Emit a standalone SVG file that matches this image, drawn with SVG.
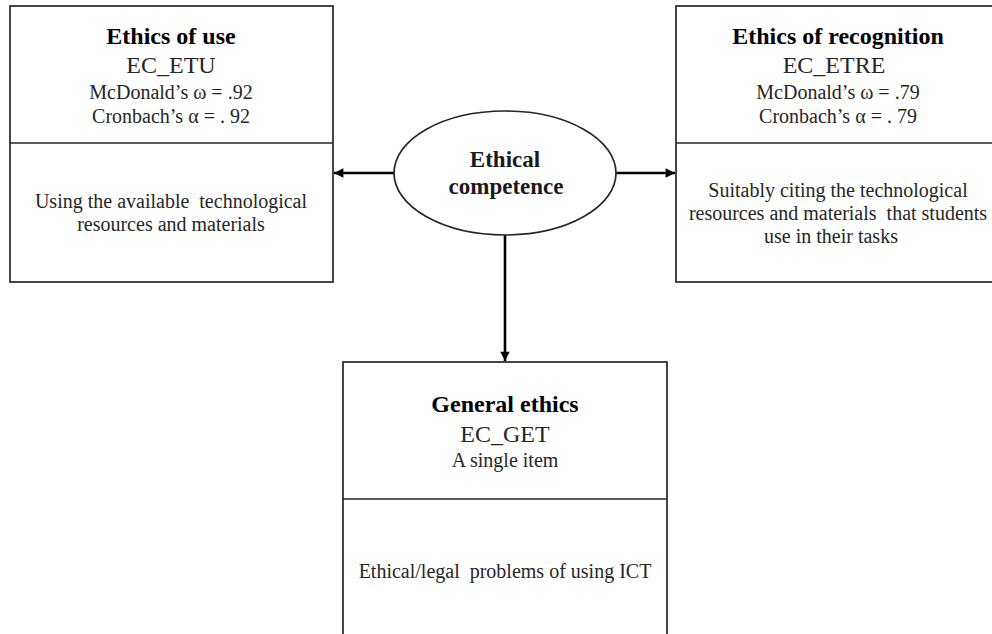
<svg xmlns="http://www.w3.org/2000/svg" width="992" height="634" viewBox="0 0 992 634">
<style>
.box{fill:#fff;stroke:#262626;stroke-width:1.7}
.div{stroke:#262626;stroke-width:1.7}
.h{font-family:"Liberation Serif","Times New Roman",serif;font-weight:bold;font-size:24px;fill:#000;text-anchor:middle}
.c{font-family:"Liberation Serif","Times New Roman",serif;font-size:24px;fill:#262626;text-anchor:middle}
.t{font-family:"Liberation Serif","Times New Roman",serif;font-size:20px;fill:#262626;text-anchor:middle}
.e{font-family:"Liberation Serif","Times New Roman",serif;font-weight:bold;font-size:23px;fill:#1a1a1a;text-anchor:middle}
.arr{stroke:#000;stroke-width:2.6;fill:none;marker-end:url(#ah)}
</style>
<defs>
<marker id="ah" viewBox="0 0 10 10" refX="10" refY="5" markerWidth="3.8" markerHeight="3.6" orient="auto" markerUnits="strokeWidth">
<path d="M0,0 L10,5 L0,10 z" fill="#000"/>
</marker>
</defs>
<rect width="992" height="634" fill="#fff"/>
<g id="connectors">
<line class="arr" x1="394" y1="173" x2="334" y2="173"/>
<line class="arr" x1="616" y1="173" x2="675" y2="173"/>
<line class="arr" x1="505" y1="235" x2="505" y2="361"/>
</g>
<g id="ethics-of-use">
<rect class="box" x="10" y="6" width="323" height="276"/>
<line class="div" x1="10" y1="143" x2="333" y2="143"/>
<text class="h" x="171" y="44">Ethics of use</text>
<text class="c" x="171" y="73">EC_ETU</text>
<text class="t" x="171" y="99">McDonald’s ω = .92</text>
<text class="t" x="171" y="123">Cronbach’s α = . 92</text>
<text class="t" x="171" y="208" xml:space="preserve">Using the available  technological</text>
<text class="t" x="171" y="231">resources and materials</text>
</g>
<g id="ethics-of-recognition">
<rect class="box" x="676" y="6" width="330" height="276"/>
<line class="div" x1="676" y1="143" x2="992" y2="143"/>
<text class="h" x="838" y="44">Ethics of recognition</text>
<text class="c" x="834" y="73">EC_ETRE</text>
<text class="t" x="838" y="99">McDonald’s ω = .79</text>
<text class="t" x="838" y="123">Cronbach’s α = . 79</text>
<text class="t" x="838" y="197">Suitably citing the technological</text>
<text class="t" x="838" y="220" xml:space="preserve">resources and materials  that students</text>
<text class="t" x="831" y="243">use in their tasks</text>
</g>
<g id="ethical-competence">
<ellipse cx="505" cy="173" rx="111" ry="62" fill="#fff" stroke="#262626" stroke-width="1.7"/>
<text class="e" x="505" y="167">Ethical</text>
<text class="e" x="506" y="194">competence</text>
</g>
<g id="general-ethics">
<rect class="box" x="343" y="362" width="324" height="290"/>
<line class="div" x1="343" y1="499" x2="667" y2="499"/>
<text class="h" x="505" y="412">General ethics</text>
<text class="c" x="505" y="442">EC_GET</text>
<text class="t" x="505" y="467">A single item</text>
<text class="t" x="505" y="578" xml:space="preserve">Ethical/legal  problems of using ICT</text>
</g>
</svg>
